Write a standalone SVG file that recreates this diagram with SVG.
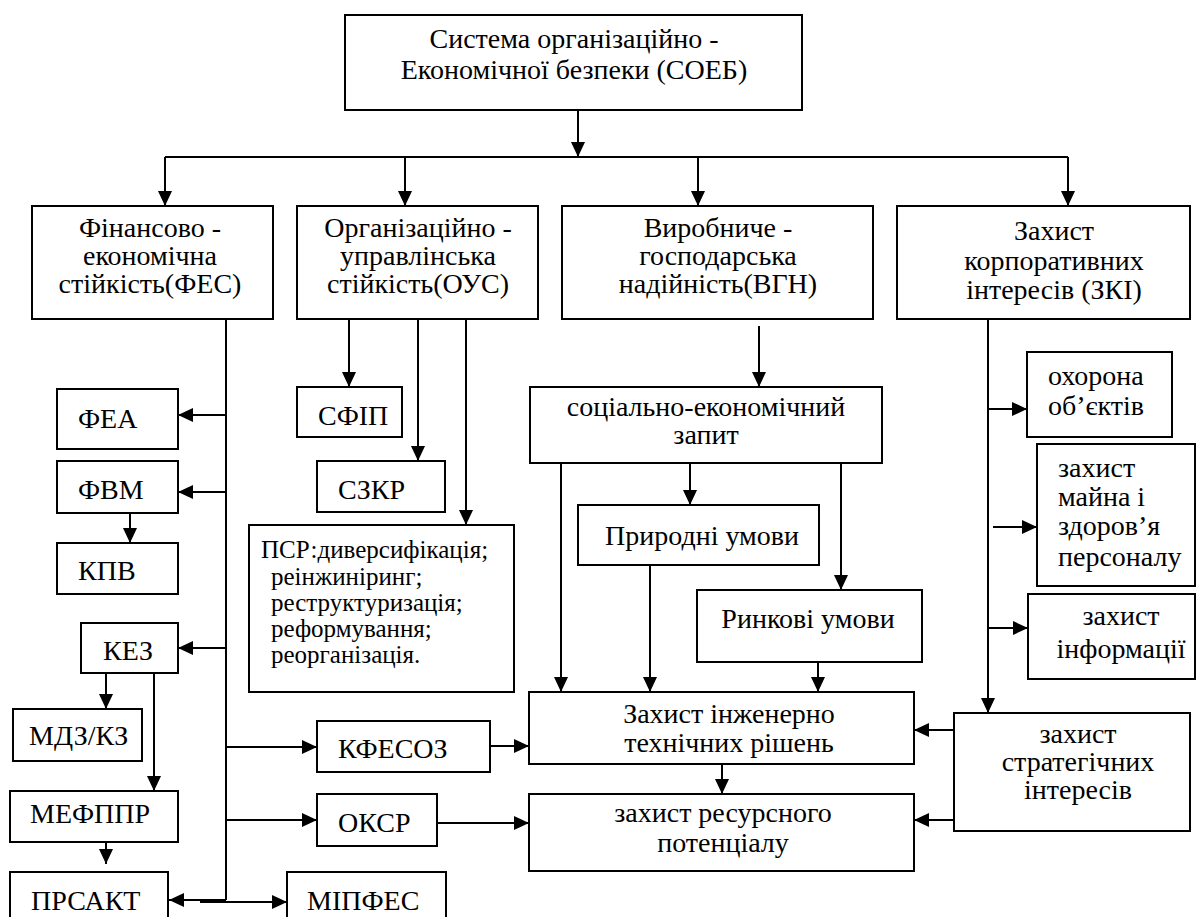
<svg xmlns="http://www.w3.org/2000/svg" width="1197" height="917" viewBox="0 0 1197 917">
  <style>
    .box { fill: #ffffff; stroke: #000000; stroke-width: 2; }
    text { font-family: "Liberation Serif", "DejaVu Serif", "Times New Roman", serif; font-size: 28px; fill: #000000; }
    .c { text-anchor: middle; }
    .s { font-size: 25px; }
    .ln { fill: none; stroke: #000000; stroke-width: 2; }
    .ar { fill: none; stroke: #000000; stroke-width: 2; marker-end: url(#head); }
  </style>
  <defs>
    <marker id="head" markerUnits="userSpaceOnUse" markerWidth="15" markerHeight="14" refX="15" refY="7" orient="auto">
      <path d="M0,0 L15,7 L0,14 Z" fill="#000000"/>
    </marker>
  </defs>
  <rect width="1197" height="917" fill="#ffffff"/>

  <!-- connectors -->
  <g id="connectors">
    <!-- root to the four branches -->
    <path class="ar" d="M578,110 V157"/>
    <path class="ln" d="M165,157 H1068"/>
    <path class="ar" d="M165,157 V206"/>
    <path class="ar" d="M405,157 V206"/>
    <path class="ar" d="M698,157 V206"/>
    <path class="ar" d="M1068,157 V206"/>

    <!-- financial-economic branch -->
    <path class="ln" d="M226,319 V900"/>
    <path class="ar" d="M226,415 H178"/>
    <path class="ar" d="M226,492 H178"/>
    <path class="ar" d="M130,513 V543"/>
    <path class="ar" d="M226,648 H178"/>
    <path class="ar" d="M106,673 V709"/>
    <path class="ar" d="M154,673 V791"/>
    <path class="ar" d="M106,842 V864"/>
    <path class="ar" d="M226,747 H317"/>
    <path class="ar" d="M226,820 H317"/>
    <path class="ar" d="M226,900 H169"/>
    <path class="ar" d="M200,902 H287"/>
    <path class="ar" d="M490,746 H529"/>
    <path class="ar" d="M437,823 H529"/>

    <!-- organisational-managerial branch -->
    <path class="ar" d="M349,319 V387"/>
    <path class="ar" d="M418,319 V461"/>
    <path class="ar" d="M466,319 V525"/>

    <!-- production-economic branch -->
    <path class="ar" d="M759,326 V387"/>
    <path class="ar" d="M561,463 V692"/>
    <path class="ar" d="M690,463 V505"/>
    <path class="ar" d="M841,463 V590"/>
    <path class="ar" d="M650,565 V692"/>
    <path class="ar" d="M818,662 V692"/>
    <path class="ar" d="M722,764 V794"/>

    <!-- corporate interests branch -->
    <path class="ar" d="M988,319 V713"/>
    <path class="ar" d="M988,409 H1027"/>
    <path class="ar" d="M993,527 H1037"/>
    <path class="ar" d="M988,628 H1028"/>
    <path class="ar" d="M954,730 H914"/>
    <path class="ar" d="M954,820 H914"/>
  </g>

  <!-- root -->
  <g id="soeb">
    <rect class="box" x="345" y="15" width="457" height="95"/>
    <text class="c" x="574" y="48">Система організаційно -</text>
    <text class="c" x="574" y="79">Економічної безпеки (СОЕБ)</text>
  </g>

  <!-- second level -->
  <g id="fes">
    <rect class="box" x="32" y="206" width="241" height="113"/>
    <text class="c" x="150" y="237">Фінансово -</text>
    <text class="c" x="150" y="265">економічна</text>
    <text class="c" x="150" y="293">стійкість(ФЕС)</text>
  </g>
  <g id="ous">
    <rect class="box" x="297" y="206" width="241" height="113"/>
    <text class="c" x="418" y="237">Організаційно -</text>
    <text class="c" x="418" y="265">управлінська</text>
    <text class="c" x="418" y="293">стійкість(ОУС)</text>
  </g>
  <g id="vgn">
    <rect class="box" x="562" y="206" width="311" height="113"/>
    <text class="c" x="718" y="237">Виробниче -</text>
    <text class="c" x="718" y="265">господарська</text>
    <text class="c" x="718" y="293">надійність(ВГН)</text>
  </g>
  <g id="zki">
    <rect class="box" x="897" y="206" width="293" height="113"/>
    <text class="c" x="1054" y="240">Захист</text>
    <text class="c" x="1054" y="270">корпоративних</text>
    <text class="c" x="1054" y="299">інтересів (ЗКІ)</text>
  </g>

  <!-- financial-economic sub-items -->
  <g id="fea">
    <rect class="box" x="57" y="389" width="121" height="60"/>
    <text x="78" y="428">ФЕА</text>
  </g>
  <g id="fvm">
    <rect class="box" x="57" y="461" width="121" height="52"/>
    <text x="78" y="499">ФВМ</text>
  </g>
  <g id="kpv">
    <rect class="box" x="57" y="543" width="121" height="51"/>
    <text x="78" y="580">КПВ</text>
  </g>
  <g id="kez">
    <rect class="box" x="81" y="623" width="97" height="50"/>
    <text x="103" y="660">КЕЗ</text>
  </g>
  <g id="mdz">
    <rect class="box" x="13" y="709" width="129" height="52"/>
    <text x="29" y="745">МДЗ/КЗ</text>
  </g>
  <g id="mefppr">
    <rect class="box" x="10" y="791" width="168" height="51"/>
    <text x="30" y="823">МЕФППР</text>
  </g>
  <g id="prsakt">
    <rect class="box" x="10" y="872" width="158" height="60"/>
    <text x="31" y="910">ПРСАКТ</text>
  </g>
  <g id="mipfes">
    <rect class="box" x="287" y="872" width="159" height="60"/>
    <text x="307" y="910">МІПФЕС</text>
  </g>
  <g id="kfesoz">
    <rect class="box" x="317" y="721" width="173" height="51"/>
    <text x="338" y="758">КФЕСОЗ</text>
  </g>
  <g id="oksr">
    <rect class="box" x="317" y="794" width="120" height="52"/>
    <text x="338" y="832">ОКСР</text>
  </g>

  <!-- organisational-managerial sub-items -->
  <g id="sfip">
    <rect class="box" x="297" y="387" width="105" height="50"/>
    <text x="318" y="425">СФІП</text>
  </g>
  <g id="szkr">
    <rect class="box" x="317" y="461" width="128" height="51"/>
    <text x="338" y="499">СЗКР</text>
  </g>
  <g id="psr">
    <rect class="box" x="249" y="525" width="265" height="167"/>
    <text class="s" x="261" y="558">ПСР:диверсифікація;</text>
    <text class="s" x="271" y="585">реінжиніринг;</text>
    <text class="s" x="271" y="611">реструктуризація;</text>
    <text class="s" x="271" y="637">реформування;</text>
    <text class="s" x="271" y="663">реорганізація.</text>
  </g>

  <!-- production-economic sub-items -->
  <g id="sez">
    <rect class="box" x="530" y="387" width="352" height="76"/>
    <text class="c" x="706" y="416">соціально-економічний</text>
    <text class="c" x="706" y="444">запит</text>
  </g>
  <g id="pryrodni">
    <rect class="box" x="578" y="505" width="241" height="60"/>
    <text class="c" x="702" y="545">Природні умови</text>
  </g>
  <g id="rynkovi">
    <rect class="box" x="697" y="590" width="225" height="72"/>
    <text class="c" x="808" y="628">Ринкові умови</text>
  </g>
  <g id="itr">
    <rect class="box" x="529" y="692" width="385" height="72"/>
    <text class="c" x="729" y="723">Захист інженерно</text>
    <text class="c" x="729" y="752">технічних рішень</text>
  </g>
  <g id="rp">
    <rect class="box" x="529" y="794" width="385" height="77"/>
    <text class="c" x="723" y="822">захист ресурсного</text>
    <text class="c" x="723" y="852">потенціалу</text>
  </g>

  <!-- corporate interests sub-items -->
  <g id="okhorona">
    <rect class="box" x="1027" y="352" width="145" height="85"/>
    <text x="1048" y="385">охорона</text>
    <text x="1048" y="415">об’єктів</text>
  </g>
  <g id="mayno">
    <rect class="box" x="1037" y="444" width="158" height="142"/>
    <text x="1058" y="477">захист</text>
    <text x="1058" y="506">майна і</text>
    <text x="1058" y="535">здоров’я</text>
    <text x="1058" y="566">персоналу</text>
  </g>
  <g id="informatsiya">
    <rect class="box" x="1028" y="594" width="167" height="85"/>
    <text class="c" x="1121" y="625">захист</text>
    <text class="c" x="1121" y="658">інформації</text>
  </g>
  <g id="stratehichni">
    <rect class="box" x="954" y="713" width="236" height="118"/>
    <text class="c" x="1078" y="743" font-size="27">захист</text>
    <text class="c" x="1078" y="771" font-size="27">стратегічних</text>
    <text class="c" x="1078" y="799" font-size="27">інтересів</text>
  </g>
</svg>
